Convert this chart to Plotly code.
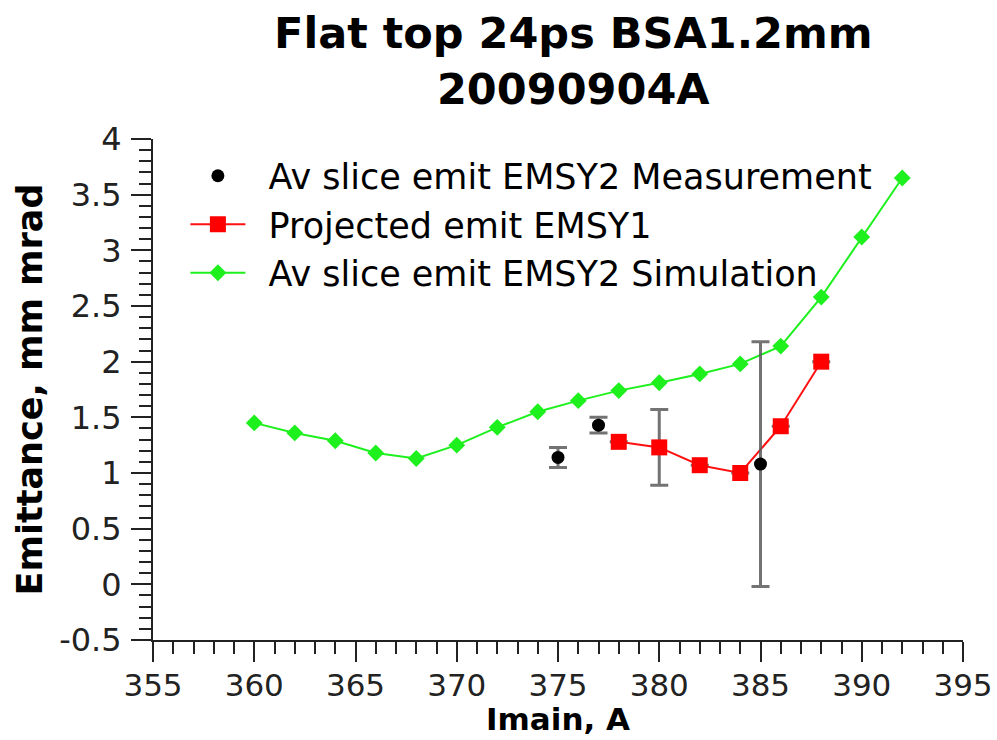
import plotly.graph_objects as go

# Simulated average slice emittance (EMSY2)
sim_imain = [360, 362, 364, 366, 368, 370, 372, 374, 376, 378, 380, 382, 384, 386, 388, 390, 392]
sim_emit = [1.45, 1.36, 1.29, 1.18, 1.13, 1.25, 1.41, 1.55, 1.65, 1.74, 1.81, 1.89, 1.98, 2.14, 2.58, 3.12, 3.65]

# Projected emittance (EMSY1)
proj_imain = [378, 380, 382, 384, 386, 388]
proj_emit = [1.28, 1.23, 1.07, 1.00, 1.42, 2.00]
proj_err = [None, 0.34, None, None, None, None]

# Measured average slice emittance (EMSY2)
meas_imain = [375, 377, 385]
meas_emit = [1.14, 1.43, 1.08]
meas_err = [0.09, 0.07, 1.10]

# Axis ticks
x_ticks = [355, 360, 365, 370, 375, 380, 385, 390, 395]
y_ticks = [-0.5, 0, 0.5, 1, 1.5, 2, 2.5, 3, 3.5, 4]
y_tick_text = ["-0.5", "0", "0.5", "1", "1.5", "2", "2.5", "3", "3.5", "4"]

FONT = "DejaVu Sans"
ERR_COLOR = "rgba(90,90,90,0.85)"
PAD = "\u00a0\u2009"  # gap between legend symbol and label

fig = go.Figure()

fig.add_trace(go.Scatter(
    x=sim_imain, y=sim_emit, mode="lines+markers",
    name=PAD + "Av slice emit EMSY2 Simulation", legendrank=3,
    line=dict(color="#1ef01e", width=2),
    marker=dict(symbol="diamond", size=13, color="#1ef01e"),
))

fig.add_trace(go.Scatter(
    x=proj_imain, y=proj_emit, mode="lines+markers",
    name=PAD + "Projected emit EMSY1", legendrank=2,
    line=dict(color="#ff1010", width=2),
    marker=dict(symbol="square", size=16, color="#ff0000"),
    error_y=dict(type="data", array=proj_err, visible=True,
                 color=ERR_COLOR, thickness=3, width=9),
))

fig.add_trace(go.Scatter(
    x=meas_imain, y=meas_emit, mode="markers",
    name=PAD + "Av slice emit EMSY2 Measurement", legendrank=1,
    marker=dict(symbol="circle", size=13, color="black"),
    error_y=dict(type="data", array=meas_err, visible=True,
                 color=ERR_COLOR, thickness=3, width=9),
))

axis_common = dict(
    showline=True, linecolor="#222", linewidth=2,
    ticks="outside", ticklen=20, tickwidth=2, tickcolor="#222",
    showgrid=False, zeroline=False, mirror=False, automargin=False,
)

fig.update_xaxes(
    range=[355, 395], tickvals=x_ticks,
    tickfont=dict(family=FONT, size=31, color="#222"),
    ticklabelstandoff=-3,
    minor=dict(dtick=1, ticks="outside", ticklen=12, tickwidth=2, tickcolor="#222"),
    **axis_common,
)
fig.update_yaxes(
    range=[-0.5, 4], tickvals=y_ticks, ticktext=y_tick_text,
    tickfont=dict(family=FONT, size=32, color="#222"),
    minor=dict(dtick=0.1, ticks="outside", ticklen=12, tickwidth=2, tickcolor="#222"),
    title=dict(text="Emittance, mm mrad", font=dict(family=FONT, size=35, weight="bold", color="black"), standoff=6),
    ticklabelstandoff=3,
    **axis_common,
)

# x-axis title placed just under the tick labels
fig.add_annotation(
    text="Imain, A", xref="paper", yref="paper",
    x=0.5, y=-0.158, xanchor="center", yanchor="middle", showarrow=False,
    font=dict(family=FONT, size=31, weight="bold", color="black"),
    borderpad=0,
)

fig.update_layout(
    width=997, height=740,
    margin=dict(l=153, r=34, t=139, b=100),
    plot_bgcolor="white", paper_bgcolor="white",
    font=dict(family=FONT, color="black"),
    title=dict(
        text="Flat top 24ps BSA1.2mm<br>20090904A",
        font=dict(family=FONT, size=43, weight="bold", color="black"),
        x=0.575, xanchor="center", xref="container",
        y=0.935, yanchor="middle", yref="container",
    ),
    legend=dict(
        x=0.04, y=0.985, xanchor="left", yanchor="top",
        bgcolor="rgba(0,0,0,0)", borderwidth=0,
        font=dict(family=FONT, size=35, color="black"),
        itemwidth=55, tracegroupgap=0,
    ),
)

fig.write_html("out.html")
